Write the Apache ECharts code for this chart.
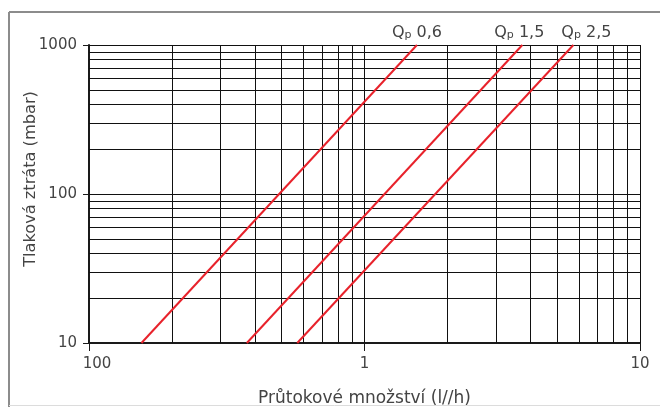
<!DOCTYPE html>
<html>
<head>
<meta charset="utf-8">
<script src="https://cdn.jsdelivr.net/npm/echarts@6/dist/echarts.min.js"></script>
<style>
html,body{margin:0;padding:0;background:#fff;}
#c{width:660px;height:407px;}
</style>
</head>
<body>
<div id="c"></div>
<script>
// ---- data ----
const xTickLabels = ['100', '1', '10'];
const yTickLabels = ['10', '100', '1000'];
const xGridValues = [0.2,0.3,0.4,0.5,0.6,0.7,0.8,0.9,1,2,3,4,5,6,7,8,9,10];
const yGridValues = [20,30,40,50,60,70,80,90,100,200,300,400,500,600,700,800,900,1000];
const seriesNames = ['Qp 0,6', 'Qp 1,5', 'Qp 2,5'];
const qp06 = [[0.155, 10], [1.55, 1000]];
const qp15 = [[0.374, 10], [3.74, 1000]];
const qp25 = [[0.57, 10], [5.73, 1000]];
const xAxisName = 'Průtokové množství (l//h)';
const yAxisName = 'Tlaková ztráta (mbar)';

// ---- styles ----
const FONT = '"DejaVu Sans", sans-serif';
const TEXT = '#444444';
const RED = '#e8222b';
const labelOffsets = [[0, 0], [-3, 0], [13, 0]];

const chart = echarts.init(document.getElementById('c'), null, {renderer: 'canvas'});

function makeSeries(name, data, i) {
  const pts = data.map((p, k) => {
    if (k === data.length - 1) {
      return {
        value: p,
        label: {
          show: true,
          position: 'top',
          distance: 4,
          offset: labelOffsets[i],
          formatter: '{q|' + name.slice(0, 1) + '}{p|' + name.slice(1, 2) + '}{n|' + name.slice(2) + '}',
          rich: {
            q: {fontFamily: FONT, fontSize: 16, color: TEXT},
            p: {fontFamily: FONT, fontSize: 11, color: TEXT, verticalAlign: 'bottom', padding: [4, 0, 0, 0]},
            n: {fontFamily: FONT, fontSize: 16, color: TEXT}
          }
        }
      };
    }
    return {value: p};
  });
  return {
    name: name,
    type: 'line',
    data: pts,
    showSymbol: true,
    symbol: 'circle',
    symbolSize: 1,
    itemStyle: {color: 'rgba(0,0,0,0)'},
    lineStyle: {color: RED, width: 2},
    z: 5,
    silent: true,
    animation: false
  };
}

const gridLineSeries = {
  type: 'line',
  data: [],
  silent: true,
  animation: false,
  markLine: {
    silent: true,
    symbol: ['none', 'none'],
    label: {show: false},
    animation: false,
    lineStyle: {color: '#111111', width: 1, type: 'solid'},
    emphasis: {disabled: true},
    data: xGridValues.map(v => ({xAxis: v})).concat(yGridValues.map(v => ({yAxis: v})))
  },
  z: 1
};

chart.setOption({
  animation: false,
  backgroundColor: '#fff',
  grid: {left: 89, right: 20, top: 45, bottom: 64, containLabel: false, outerBoundsMode: 'none'},
  xAxis: {
    type: 'log',
    logBase: 10,
    min: 0.1,
    max: 10,
    name: xAxisName,
    nameLocation: 'middle',
    nameGap: 47,
    nameMoveOverlap: false,
    nameTextStyle: {fontFamily: FONT, fontSize: 17, color: TEXT},
    axisLine: {show: true, lineStyle: {color: '#1a1a1a', width: 2}},
    axisTick: {show: true, length: 8, lineStyle: {color: '#1a1a1a', width: 1}},
    splitLine: {show: false},
    minorTick: {show: false},
    axisLabel: {
      fontFamily: FONT, fontSize: 15, color: TEXT, margin: 14,
      formatter: function (v, idx) {
        const t = xTickLabels[idx] !== undefined ? xTickLabels[idx] : '';
        return idx === 0 ? '{s|' + t + '}' : t;
      },
      rich: {s: {fontFamily: FONT, fontSize: 15, color: TEXT, padding: [0, 0, 0, 16]}}
    }
  },
  yAxis: {
    type: 'log',
    logBase: 10,
    min: 10,
    max: 1000,
    name: yAxisName,
    nameLocation: 'middle',
    nameGap: 50,
    nameMoveOverlap: false,
    nameTextStyle: {fontFamily: FONT, fontSize: 16.2, color: TEXT, padding: [0, 0, 0, 30]},
    axisLine: {show: true, lineStyle: {color: '#1a1a1a', width: 2}},
    axisTick: {show: true, length: 6, lineStyle: {color: '#1a1a1a', width: 1}},
    splitLine: {show: false},
    axisLabel: {
      fontFamily: FONT, fontSize: 15, color: TEXT, margin: 12,
      formatter: function (v, idx) {
        return yTickLabels[idx] !== undefined ? yTickLabels[idx] : '';
      }
    }
  },
  graphic: [
    {type: 'line', shape: {x1: 9, y1: 12, x2: 660, y2: 12}, style: {stroke: '#8c8c8c', lineWidth: 2}, silent: true},
    {type: 'line', shape: {x1: 9, y1: 12, x2: 9, y2: 407}, style: {stroke: '#8c8c8c', lineWidth: 2}, silent: true},
    {type: 'line', shape: {x1: 9, y1: 405.5, x2: 660, y2: 405.5}, style: {stroke: '#dcdcdc', lineWidth: 1}, silent: true}
  ],
  series: [
    gridLineSeries,
    makeSeries(seriesNames[0], qp06, 0),
    makeSeries(seriesNames[1], qp15, 1),
    makeSeries(seriesNames[2], qp25, 2)
  ]
});
</script>
</body>
</html>
